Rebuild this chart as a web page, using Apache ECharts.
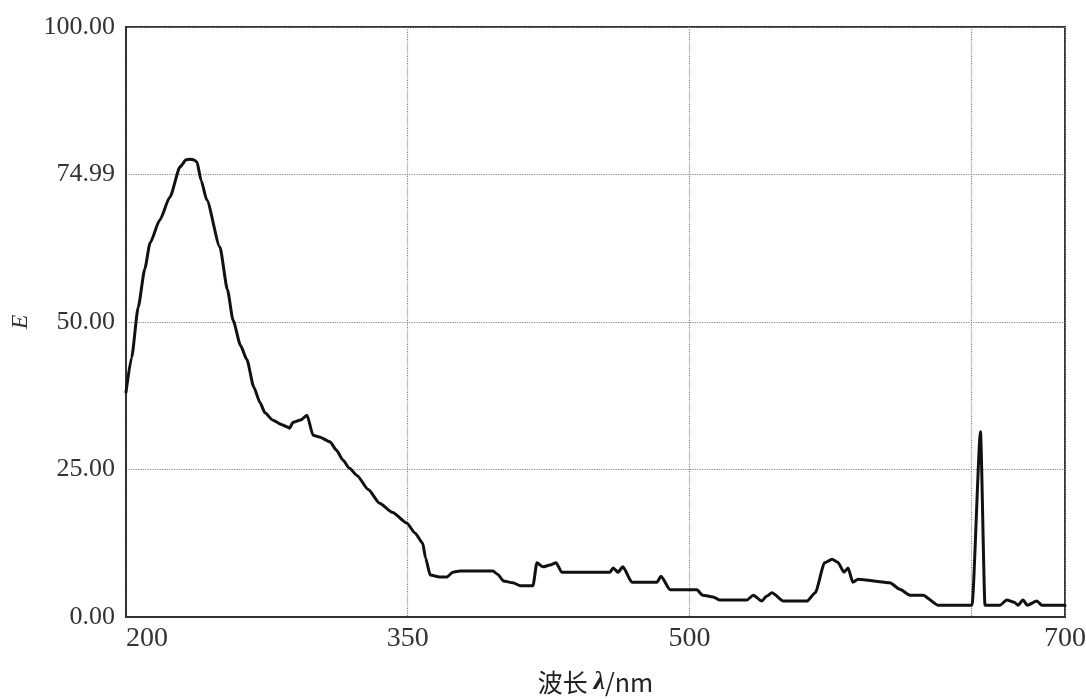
<!DOCTYPE html>
<html>
<head>
<meta charset="utf-8">
<script src="https://cdn.jsdelivr.net/npm/echarts@6/dist/echarts.min.js"></script>
<style>
html,body{margin:0;padding:0;background:#fff;}
#chart{width:1086px;height:699px;}
</style>
</head>
<body>
<div id="chart"></div>
<script>
const wavelength = [200,203,206.5,210,212.8,218,223.4,228.8,232,234,236,237.8,240,243,250,254,257,261,264.4,268,271.4,274,278,283,286,287,289,293,296.4,299.6,303,308.6,312,315.5,319,323,329,335,342,349.6,354,358,359.5,362,367,371,374,378,395.4,398,401,406,410,416.7,418.8,422,425.8,429,432,457.7,459.4,462,464.6,469.4,482.7,484.9,489.7,504,507,512.6,516,530.7,534,538.6,541,544,550,562.6,567,572,576,579,582.3,584.5,587,589.8,606.8,612,617.5,624.4,632.4,650.5,655,657.4,665.4,669,673,675,677.6,680,685,687.7,700];
const energy = [38.1,44,52.5,59,63.4,67.3,71.2,76.3,77.5,77.6,77.5,77.1,74,70.7,62.7,55.5,50.3,46,43.6,39,36.3,34.6,33.4,32.6,32.2,32.0,33,33.4,34.2,30.8,30.5,29.7,28.3,26.6,25.2,24,21.6,19.3,17.7,15.9,14.2,12.5,10,7.1,6.8,6.8,7.6,7.8,7.8,7.2,6.1,5.8,5.3,5.3,9.2,8.5,8.8,9.2,7.6,7.6,8.3,7.6,8.5,5.9,5.9,6.9,4.6,4.6,3.7,3.4,2.9,2.9,3.7,2.7,3.5,4.1,2.7,2.7,4.1,9.2,9.8,9.3,7.6,8.3,5.9,6.4,5.8,4.7,3.7,3.7,2.0,2.0,31.4,2.0,2.0,2.9,2.5,2.0,2.9,2.0,2.7,2.0,2.0];
const xTickLabels = {200:'200',350:'350',500:'500',700:'700'};
const yTickLabels = {0:'0.00',25:'25.00',50:'50.00',75:'74.99',100:'100.00'};

const seriesData = wavelength.map((w,i)=>[w,energy[i]]);
const chart = echarts.init(document.getElementById('chart'));
const font = '"Liberation Serif","Times New Roman",serif';
chart.setOption({
  animation:false,
  backgroundColor:'#fff',
  grid:{left:126,right:21,top:27,bottom:82,containLabel:false,outerBoundsMode:'none',show:true,borderColor:'#333',borderWidth:2,backgroundColor:'transparent'},
  xAxis:{
    type:'value',min:200,max:700,interval:150,
    name:'{a|波长 }{b|λ}{a|/nm}',nameLocation:'middle',nameGap:52,
    nameTextStyle:{rich:{a:{fontFamily:'"Noto Sans CJK SC","Liberation Serif",serif',fontSize:25,color:'#222'},b:{fontFamily:font,fontStyle:'italic',fontWeight:'bold',fontSize:26,color:'#222'}}},
    axisLine:{show:true,lineStyle:{color:'#333',width:2}},
    axisTick:{show:false},
    axisLabel:{fontFamily:font,fontSize:28,color:'#333',margin:8,alignMinLabel:'left',showMaxLabel:true,
      formatter:v=>xTickLabels[v]!==undefined?xTickLabels[v]:''},
    splitLine:{show:true,lineStyle:{color:'#888',type:'dotted',width:1.2}}
  },
  yAxis:{
    type:'value',min:0,max:100,interval:25,
    name:'E',nameLocation:'middle',nameGap:86,nameRotate:90,
    nameTextStyle:{fontFamily:font,fontStyle:'italic',fontSize:24,color:'#333'},
    axisLine:{show:true,lineStyle:{color:'#333',width:2}},
    axisTick:{show:false},
    axisLabel:{fontFamily:font,fontSize:26,color:'#333',margin:11,
      formatter:v=>yTickLabels[v]!==undefined?yTickLabels[v]:''},
    splitLine:{show:true,lineStyle:{color:'#888',type:'dotted',width:1.2}}
  },
  series:[{
    type:'line',data:seriesData,showSymbol:false,symbol:'none',
    lineStyle:{color:'#111',width:3,join:'round',cap:'round'},
    smooth:0.2,smoothMonotone:'x'
  }]
});
</script>
</body>
</html>
